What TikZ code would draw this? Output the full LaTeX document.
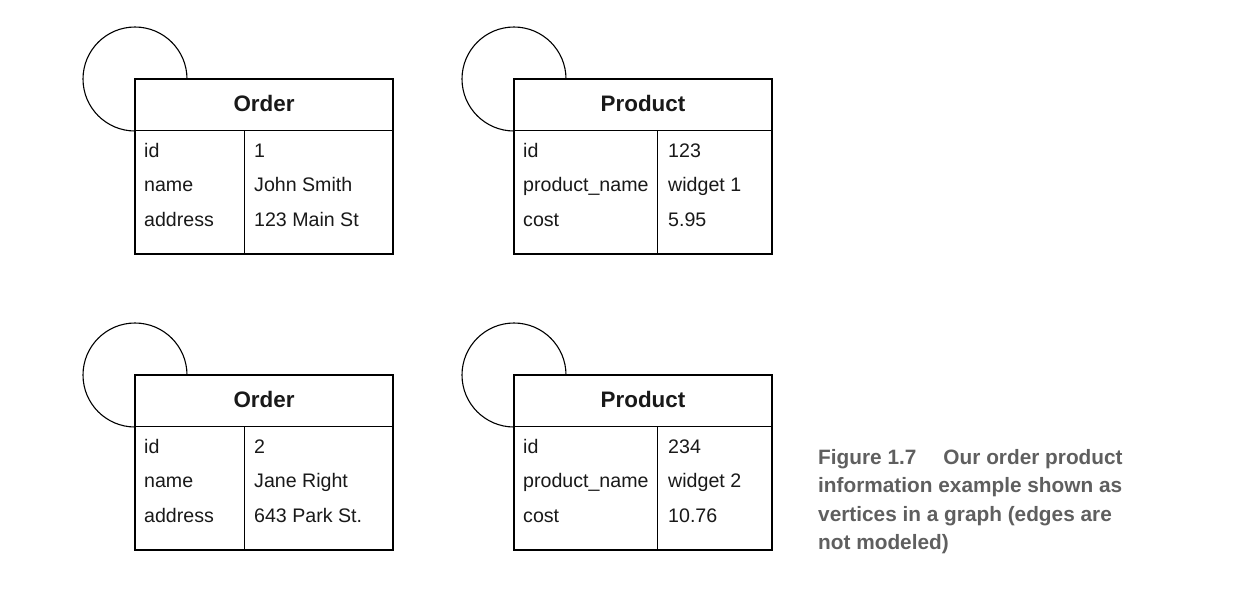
\documentclass[tikz,border=0pt]{standalone}
\usepackage{fontspec}
\setmainfont{Liberation Sans}
\definecolor{capgray}{RGB}{95,95,95}
\definecolor{ink}{RGB}{25,25,25}
\begin{document}
\begin{tikzpicture}[x=1pt,y=-1pt,
  loop/.style={circle,draw,line width=1.1pt,minimum size=104pt,inner sep=0pt},
  tbl/.style={draw,line width=1.2pt,fill=white,minimum width=258pt,minimum height=175pt,inner sep=0pt},
  rule/.style={line width=1.2pt},
  head/.style={anchor=base,font=\fontsize{22.4}{26}\selectfont\bfseries,text=ink,inner sep=0pt},
  cell/.style={anchor=base west,font=\fontsize{19.6}{24}\selectfont,text=ink,inner sep=0pt},
  captext/.style={anchor=north west,align=left,font=\fontsize{20.8}{28.4}\selectfont\bfseries,text=capgray,inner sep=0pt}]
\useasboundingbox (0,0) rectangle (1252,606);
% circles (self loops)
\node[loop] (c1) at (135,79) {};
\node[loop] (c2) at (514,79) {};
\node[loop] (c3) at (135,375) {};
\node[loop] (c4) at (514,375) {};
% tables
\node[tbl] (t1) at (264,166.5) {};
\node[tbl] (t2) at (643,166.5) {};
\node[tbl] (t3) at (264,462.5) {};
\node[tbl] (t4) at (643,462.5) {};
% header lines and column dividers
\draw[rule] ([yshift=-52pt]t1.north west) -- ([yshift=-52pt]t1.north east);
\draw[rule] ([yshift=-52pt]t2.north west) -- ([yshift=-52pt]t2.north east);
\draw[rule] ([yshift=-52pt]t3.north west) -- ([yshift=-52pt]t3.north east);
\draw[rule] ([yshift=-52pt]t4.north west) -- ([yshift=-52pt]t4.north east);
\draw[rule] ([xshift=110pt,yshift=-52pt]t1.north west) -- ([xshift=110pt]t1.south west);
\draw[rule] ([xshift=144pt,yshift=-52pt]t2.north west) -- ([xshift=144pt]t2.south west);
\draw[rule] ([xshift=110pt,yshift=-52pt]t3.north west) -- ([xshift=110pt]t3.south west);
\draw[rule] ([xshift=144pt,yshift=-52pt]t4.north west) -- ([xshift=144pt]t4.south west);
% headers
\node[head] (h1) at (264,111.7) {Order};
\node[head] (h2) at (643,111.7) {Product};
\node[head] (h3) at (264,407.7) {Order};
\node[head] (h4) at (643,407.7) {Product};
% table 1
\node[cell] (a1) at (144,157.5) {id};
\node[cell] (a2) at (144,191.5) {name};
\node[cell] (a3) at (144,226) {address};
\node[cell] (a4) at (254,157.5) {1};
\node[cell] (a5) at (254,191.5) {John Smith};
\node[cell] (a6) at (254,226) {123 Main St};
% table 2
\node[cell] (b1) at (523,157.5) {id};
\node[cell] (b2) at (523,191.5) {product\_name};
\node[cell] (b3) at (523,226) {cost};
\node[cell] (b4) at (668,157.5) {123};
\node[cell] (b5) at (668,191.5) {widget 1};
\node[cell] (b6) at (668,226) {5.95};
% table 3
\node[cell] (d1) at (144,453.5) {id};
\node[cell] (d2) at (144,487.5) {name};
\node[cell] (d3) at (144,522) {address};
\node[cell] (d4) at (254,453.5) {2};
\node[cell] (d5) at (254,487.5) {Jane Right};
\node[cell] (d6) at (254,522) {643 Park St.};
% table 4
\node[cell] (e1) at (523,453.5) {id};
\node[cell] (e2) at (523,487.5) {product\_name};
\node[cell] (e3) at (523,522) {cost};
\node[cell] (e4) at (668,453.5) {234};
\node[cell] (e5) at (668,487.5) {widget 2};
\node[cell] (e6) at (668,522) {10.76};
% caption
\node[captext] (capt) at (818,449) {Figure 1.7\hspace{1.3em}Our order product\\information example shown as\\vertices in a graph (edges are\\not modeled)};
\end{tikzpicture}
\end{document}
